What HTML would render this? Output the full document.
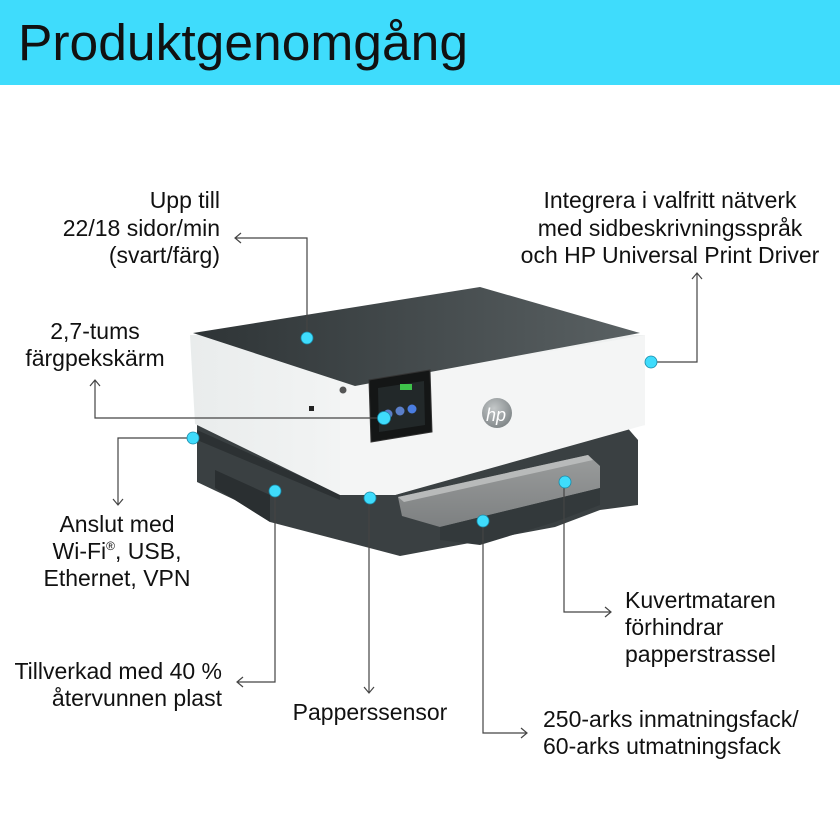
<!DOCTYPE html>
<html><head><meta charset="utf-8"><style>
html,body{margin:0;padding:0;background:#fff}
svg{display:block}
text{font-family:"Liberation Sans",sans-serif;fill:#111}
</style></head><body>
<svg width="840" height="840" viewBox="0 0 840 840" xmlns="http://www.w3.org/2000/svg">
<defs>
<linearGradient id="lid" x1="0" y1="0" x2="1" y2="0"><stop offset="0" stop-color="#2e3436"/><stop offset="1" stop-color="#5a6163"/></linearGradient>
<linearGradient id="wh" x1="0" y1="0" x2="1" y2="0"><stop offset="0" stop-color="#e9ecec"/><stop offset="0.5" stop-color="#f7f8f8"/><stop offset="1" stop-color="#eceeee"/></linearGradient>
<linearGradient id="tray" x1="0" y1="0" x2="0" y2="1"><stop offset="0" stop-color="#9a9c9c"/><stop offset="1" stop-color="#7d8081"/></linearGradient>
<radialGradient id="hp" cx="0.4" cy="0.35" r="0.7"><stop offset="0" stop-color="#c4c8c9"/><stop offset="1" stop-color="#7e8486"/></radialGradient>
</defs>
<rect x="0" y="0" width="840" height="85" fill="#3fdcfc"/>
<text x="18" y="60" font-size="51" textLength="450" lengthAdjust="spacingAndGlyphs">Produktgenomgång</text>

<!-- dark base -->
<polygon points="197,422 625,425 638,440 638,505 600,510 555,527 400,556 270,522 235,500 197,482" fill="#3a4042"/>
<polygon points="215,470 270,495 270,522 235,500 215,488" fill="#2a2f31"/>
<polygon points="197,430 340,494 340,500 197,440" fill="#2c3133"/>
<!-- white body -->
<polygon points="190,335 645,335 645,425 575,440 395,495 340,495 195,424" fill="url(#wh)"/>
<polygon points="340,388 645,335 645,425 395,495 340,495" fill="#f4f5f5"/>
<!-- lid -->
<polygon points="193,333 480,287 640,333 355,386" fill="url(#lid)"/>
<!-- tray -->
<polygon points="398,497 588,455 600,466 600,488 440,527 402,516" fill="url(#tray)"/>
<polygon points="398,497 588,455 593,460 404,502" fill="#b8baba"/>
<polygon points="440,527 600,488 600,505 555,522 480,545 440,540" fill="#33393b"/>
<!-- screen -->
<polygon points="369,380 430,370 432,432 371,442" fill="#141616" stroke="#333" stroke-width="1"/>
<polygon points="378,388 424,381 425,425 379,432" fill="#222829"/>
<rect x="400" y="384" width="12" height="6" fill="#3ec24a"/>
<circle cx="388" cy="414" r="4.5" fill="#5b7fc9"/><circle cx="400" cy="411" r="4.5" fill="#5b7fc9"/><circle cx="412" cy="409" r="4.5" fill="#4a7de0"/>
<circle cx="343" cy="390" r="3.5" fill="#555"/>
<rect x="309" y="406" width="5" height="5" fill="#222"/>
<!-- hp logo -->
<circle cx="497" cy="413" r="15" fill="url(#hp)"/>
<text x="486" y="421" font-size="18" font-style="italic" style="fill:#fff">hp</text>

<!-- connectors -->
<g stroke="#444" stroke-width="1.2" fill="none">
<polyline points="307,338 307,238 235,238"/><polyline points="241,233 235,238 241,243"/>
<polyline points="651,362 697,362 697,273"/><polyline points="692,279 697,273 702,279"/>
<polyline points="384,418 95,418 95,380"/><polyline points="90,386 95,380 100,386"/>
<polyline points="193,438 118,438 118,505"/><polyline points="113,499 118,505 123,499"/>
<polyline points="275,491 275,682 237,682"/><polyline points="243,677 237,682 243,687"/>
<polyline points="369,498 369,693"/><polyline points="364,687 369,693 374,687"/>
<polyline points="483,521 483,733 527,733"/><polyline points="521,728 527,733 521,738"/>
<polyline points="564,482 564,612 611,612"/><polyline points="605,607 611,612 605,617"/>
</g>
<g fill="#3fdcfc" stroke="#1a8aa8" stroke-width="0.8">
<circle cx="307" cy="338" r="6"/><circle cx="651" cy="362" r="6"/><circle cx="384" cy="418" r="6.5"/>
<circle cx="193" cy="438" r="6"/><circle cx="275" cy="491" r="6"/><circle cx="370" cy="498" r="6"/>
<circle cx="483" cy="521" r="6"/><circle cx="565" cy="482" r="6"/>
</g>

<g font-size="23">
<text x="220" y="208" text-anchor="end">Upp till</text>
<text x="220" y="236" text-anchor="end">22/18 sidor/min</text>
<text x="220" y="263" text-anchor="end">(svart/färg)</text>
<text x="670" y="208" text-anchor="middle">Integrera i valfritt nätverk</text>
<text x="670" y="236" text-anchor="middle">med sidbeskrivningsspråk</text>
<text x="670" y="263" text-anchor="middle">och HP Universal Print Driver</text>
<text x="95" y="339" text-anchor="middle">2,7-tums</text>
<text x="95" y="366" text-anchor="middle">färgpekskärm</text>
<text x="117" y="532" text-anchor="middle">Anslut med</text>
<text x="117" y="559" text-anchor="middle">Wi-Fi<tspan font-size="12" dy="-9">®</tspan><tspan dy="9">, USB,</tspan></text>
<text x="117" y="586" text-anchor="middle">Ethernet, VPN</text>
<text x="222" y="679" text-anchor="end">Tillverkad med 40 %</text>
<text x="222" y="706" text-anchor="end">återvunnen plast</text>
<text x="370" y="720" text-anchor="middle">Papperssensor</text>
<text x="625" y="608">Kuvertmataren</text>
<text x="625" y="635">förhindrar</text>
<text x="625" y="662">papperstrassel</text>
<text x="543" y="727">250-arks inmatningsfack/</text>
<text x="543" y="754">60-arks utmatningsfack</text>
</g>
</svg>
</body></html>
